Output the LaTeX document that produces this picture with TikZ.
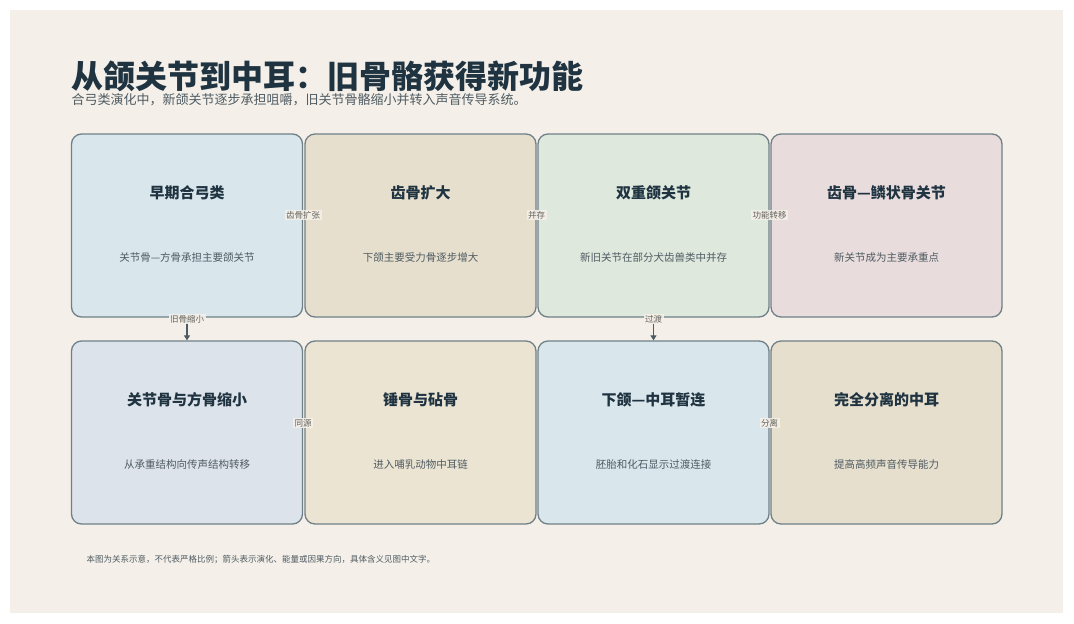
\documentclass[tikz,border=0pt]{standalone}
\usepackage{fontspec}
\setmainfont{Noto Sans CJK SC}
\newfontfamily\cjkb[FakeBold=0]{Noto Sans CJK SC Bold}
\usetikzlibrary{arrows.meta}
\definecolor{bg}{HTML}{F4F0E9}
\definecolor{bd}{HTML}{6F8088}
\definecolor{tt}{HTML}{1F3341}
\definecolor{ds}{HTML}{4F5B62}
\definecolor{ca}{HTML}{D9E6EC}
\definecolor{cb}{HTML}{E6DFCD}
\definecolor{cc}{HTML}{DEE8DD}
\definecolor{cd}{HTML}{E8DCDC}
\definecolor{ce}{HTML}{DDE3EA}
\definecolor{cf}{HTML}{ECE4D3}
\begin{document}
\begin{tikzpicture}[x=1pt,y=-1pt,
 box/.style={draw=bd,line width=1.3pt,rounded corners=10pt,minimum width=231pt,minimum height=183pt,inner sep=0pt},
 bt/.style={font=\bfseries\fontsize{15}{18}\selectfont,text=tt},
 bdsc/.style={font=\fontsize{10.5}{12}\selectfont,text=ds},
 lab/.style={fill=bg,fill opacity=0.9,text opacity=1,font=\fontsize{8.5}{10}\selectfont,text=ds!80!brown,inner sep=1.5pt},
 arr/.style={draw=ds,line width=1.2pt,-{Triangle[length=5pt,width=6pt]}}]
\fill[white] (0,0) rectangle (1074,624);
\fill[bg] (10,10) rectangle (1063,613);
\node[anchor=base west,font=\bfseries\fontsize{32}{36}\selectfont,text=tt] (t) at (68,88) {从颌关节到中耳：旧骨骼获得新功能};
\node[anchor=base west,font=\fontsize{13}{15}\selectfont,text=ds] (s) at (68,104) {合弓类演化中，新颌关节逐步承担咀嚼，旧关节骨骼缩小并转入声音传导系统。};
\foreach \n/\x/\y/\c/\a/\b in {
 a/187/225.5/ca/早期合弓类/关节骨—方骨承担主要颌关节,
 b/420.5/225.5/cb/齿骨扩大/下颌主要受力骨逐步增大,
 c/653.5/225.5/cc/双重颌关节/新旧关节在部分犬齿兽类中并存,
 d/886.5/225.5/cd/齿骨—鳞状骨关节/新关节成为主要承重点,
 e/187/432.5/ce/关节骨与方骨缩小/从承重结构向传声结构转移,
 f/420.5/432.5/cf/锤骨与砧骨/进入哺乳动物中耳链,
 g/653.5/432.5/ca/下颌—中耳暂连/胚胎和化石显示过渡连接,
 h/886.5/432.5/cb/完全分离的中耳/提高高频声音传导能力}{
 \node[box,fill=\c] (\n) at (\x,\y) {};
 \node[bt] (\n t) at (\x,\y-33) {\a};
 \node[bdsc] (\n d) at (\x,\y+32) {\b};
}
\draw[arr] (a.south) -- (e.north);
\draw[arr] (c.south) -- (g.north);
\node[lab] at (a.east|-0,215) {齿骨扩张};
\node[lab] at (b.east|-0,215) {并存};
\node[lab] at (c.east|-0,215) {功能转移};
\node[lab] at (187,319) {旧骨缩小};
\node[lab] at (653.5,319) {过渡};
\node[lab] at (e.east|-0,423) {同源};
\node[lab] at (g.east|-0,423) {分离};
\node[anchor=base west,font=\fontsize{8.5}{10}\selectfont,text=ds] (f) at (83,562) {本图为关系示意，不代表严格比例；箭头表示演化、能量或因果方向，具体含义见图中文字。};
\end{tikzpicture}
\end{document}
